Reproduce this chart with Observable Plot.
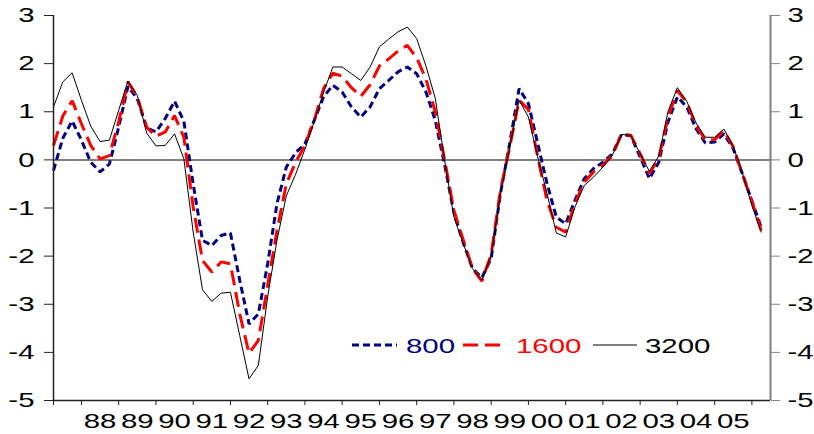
<!DOCTYPE html>
<html><head><meta charset="utf-8">
<script src="https://cdn.jsdelivr.net/npm/d3@7"></script>
<script src="https://cdn.jsdelivr.net/npm/@observablehq/plot@0.6"></script>
<style>
html,body{margin:0;padding:0;background:#fff;}
#chart{position:relative;width:814px;height:434px;}
</style></head><body><div id="chart"></div>
<script>
// quarterly observations, first one 1987 Q2
const firstQuarter = 1987.25;
const s800 = [-0.22,0.45,0.81,0.41,-0.05,-0.25,-0.09,0.68,1.53,1.27,0.67,0.58,0.86,1.22,0.80,-0.50,-1.67,-1.78,-1.57,-1.52,-2.50,-3.41,-3.20,-2.16,-0.91,-0.15,0.15,0.33,0.82,1.31,1.55,1.41,1.10,0.89,1.10,1.48,1.65,1.83,1.93,1.79,1.41,0.82,-0.10,-1.10,-1.72,-2.26,-2.45,-2.05,-0.70,0.35,1.48,1.17,0.34,-0.49,-1.19,-1.33,-0.84,-0.39,-0.18,-0.05,0.12,0.53,0.50,0.06,-0.39,-0.05,0.79,1.31,1.10,0.65,0.35,0.37,0.54,0.23,-0.30,-0.85,-1.40];
const s1600 = [0.30,0.91,1.23,0.75,0.30,0.02,0.09,0.79,1.62,1.31,0.68,0.49,0.58,0.92,0.47,-0.98,-2.09,-2.33,-2.12,-2.16,-3.20,-4.02,-3.75,-2.61,-1.47,-0.50,-0.05,0.30,0.82,1.48,1.80,1.74,1.50,1.32,1.56,1.95,2.10,2.26,2.38,2.12,1.68,1.00,0.00,-1.05,-1.66,-2.26,-2.52,-1.97,-0.63,0.27,1.24,1.05,0.06,-0.84,-1.40,-1.50,-0.91,-0.46,-0.25,-0.11,0.09,0.53,0.51,0.13,-0.28,0.04,0.89,1.44,1.20,0.72,0.41,0.42,0.61,0.27,-0.30,-0.86,-1.47];
const s3200 = [1.10,1.62,1.81,1.24,0.70,0.38,0.41,1.03,1.64,1.34,0.56,0.29,0.30,0.54,0.02,-1.50,-2.70,-2.94,-2.77,-2.75,-3.65,-4.55,-4.27,-2.85,-1.67,-0.75,-0.30,0.22,0.80,1.40,1.93,1.93,1.79,1.65,1.93,2.35,2.51,2.66,2.76,2.52,1.95,1.28,0.00,-1.19,-1.74,-2.26,-2.50,-1.99,-0.70,0.27,1.24,0.89,0.06,-0.70,-1.52,-1.60,-0.98,-0.53,-0.36,-0.15,0.09,0.53,0.51,0.13,-0.24,0.08,1.01,1.50,1.22,0.77,0.47,0.47,0.64,0.28,-0.28,-0.95,-1.50];
const seriesNames = ["800", "1600", "3200"];
const seriesColors = ["#000080", "#ff0000", "#000000"];
const yTicks = [-5, -4, -3, -2, -1, 0, 1, 2, 3];
const yearStarts = [1988,1989,1990,1991,1992,1993,1994,1995,1996,1997,1998,1999,2000,2001,2002,2003,2004,2005,2006];
const yearLabels = ["88","89","90","91","92","93","94","95","96","97","98","99","00","01","02","03","04","05"];

const toRows = (vals) => vals.map((v, i) => ({t: firstQuarter + i / 4, v}));
const labelPos = yearLabels.map((d, i) => yearStarts[i] + 0.5);

const plot = Plot.plot({
  width: 814, height: 434,
  marginLeft: 53, marginRight: 44, marginTop: 15, marginBottom: 34,
  x: {domain: [1987.25, 2006.5], label: null},
  y: {domain: [-5, 3], label: null},
  style: {fontFamily: "'Liberation Sans', Arial, sans-serif", fontSize: "21px", background: "#fff", color: "#000", overflow: "visible"},
  marks: [
    Plot.ruleY([0], {stroke: "#808080", strokeWidth: 2}),
    Plot.line(toRows(s800), {x: "t", y: "v", stroke: seriesColors[0], strokeWidth: 3, strokeDasharray: "7,4", strokeLinecap: "butt", strokeLinejoin: "miter"}),
    Plot.line(toRows(s1600), {x: "t", y: "v", stroke: seriesColors[1], strokeWidth: 3, strokeDasharray: "15,7", strokeLinecap: "butt", strokeLinejoin: "miter"}),
    Plot.line(toRows(s3200), {x: "t", y: "v", stroke: seriesColors[2], strokeWidth: 1}),
    Plot.axisY({anchor: "left", ticks: yTicks, tickSize: 9, tickPadding: 10, tickFormat: d => String(d), stroke: "#222", label: null}),
    Plot.axisY({anchor: "right", ticks: yTicks, tickSize: 9, tickPadding: 8, tickFormat: d => String(d), stroke: "#808080", label: null}),
    Plot.axisX({ticks: [1987.25, ...yearStarts], tickSize: 5, tickFormat: () => "", stroke: "#222", label: null}),
    Plot.axisX({ticks: labelPos, tickSize: 0, tickPadding: 13, tickFormat: d => yearLabels[labelPos.indexOf(d)], label: null}),
    Plot.ruleX([1987.25], {stroke: "#222", strokeWidth: 1.5}),
    Plot.ruleX([2006.5], {stroke: "#808080", strokeWidth: 2}),
    Plot.ruleY([-5], {stroke: "#222", strokeWidth: 1.5})
  ]
});

// the reference text is horizontally stretched
for (const el of plot.querySelectorAll("text")) {
  const tr = el.getAttribute("transform") || "";
  el.setAttribute("transform", `${tr} scale(1.4,1)`);
}

// legend inside the plot area
const svg = d3.select(plot);
const legend = [
  {x1: 352, x2: 397, tx: 406, dash: "7,4", w: 3},
  {x1: 463, x2: 502, tx: 516, dash: "15,7", w: 3},
  {x1: 593, x2: 637, tx: 645, dash: null, w: 1}
];
const lg = svg.append("g").attr("text-anchor", "start");
legend.forEach((d, i) => {
  lg.append("line").attr("x1", d.x1).attr("x2", d.x2).attr("y1", 345).attr("y2", 345)
    .attr("stroke", seriesColors[i]).attr("stroke-width", d.w)
    .attr("stroke-dasharray", d.dash).attr("stroke-linecap", "butt");
  lg.append("text").attr("transform", `translate(${d.tx},352.5) scale(1.4,1)`)
    .attr("fill", seriesColors[i]).attr("text-anchor", "start")
    .text(seriesNames[i]);
});

document.getElementById("chart").appendChild(plot);
</script></body></html>
